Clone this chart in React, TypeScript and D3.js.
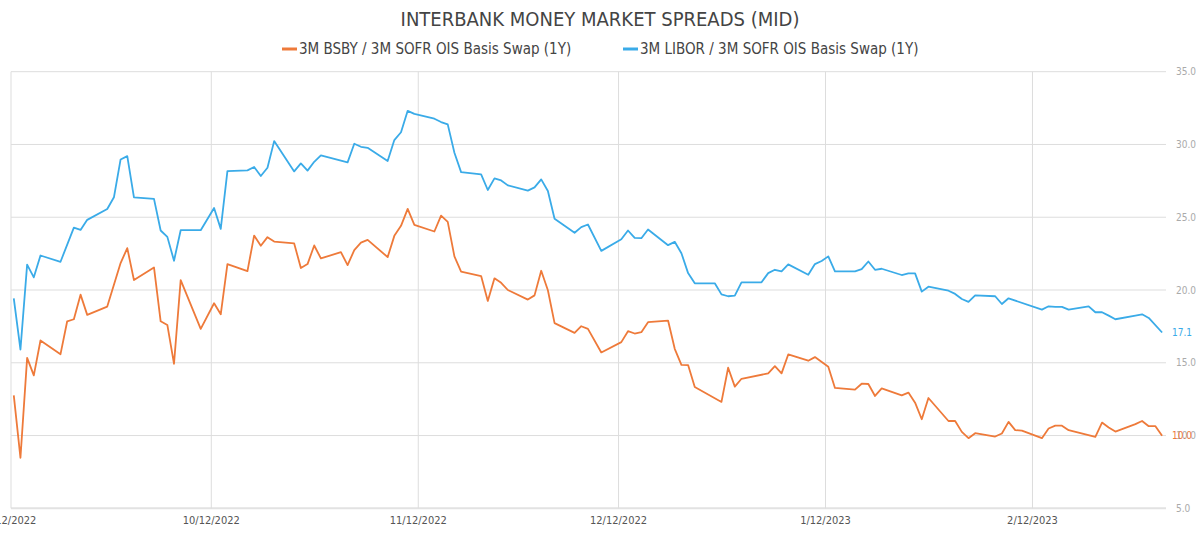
import React from 'react';
import * as d3 from 'd3';

// 3M BSBY / 3M SOFR OIS basis swap (1Y), bp
const bsbyDates = [
  '2022-09-12', '2022-09-13', '2022-09-14', '2022-09-15', '2022-09-16', '2022-09-19', '2022-09-20', '2022-09-21', '2022-09-22', '2022-09-23', '2022-09-26', '2022-09-28', '2022-09-29', '2022-09-30',
  '2022-10-03', '2022-10-04', '2022-10-05', '2022-10-06', '2022-10-07', '2022-10-10', '2022-10-12', '2022-10-13', '2022-10-14', '2022-10-17', '2022-10-18', '2022-10-19', '2022-10-20', '2022-10-21', '2022-10-24', '2022-10-25', '2022-10-26', '2022-10-27', '2022-10-28', '2022-10-31',
  '2022-11-01', '2022-11-02', '2022-11-03', '2022-11-04', '2022-11-07', '2022-11-08', '2022-11-09', '2022-11-10', '2022-11-11', '2022-11-14', '2022-11-15', '2022-11-16', '2022-11-17', '2022-11-18', '2022-11-21', '2022-11-22', '2022-11-23', '2022-11-24', '2022-11-25', '2022-11-28', '2022-11-29', '2022-11-30',
  '2022-12-01', '2022-12-02', '2022-12-05', '2022-12-06', '2022-12-07', '2022-12-09', '2022-12-12', '2022-12-13', '2022-12-14', '2022-12-15', '2022-12-16', '2022-12-19', '2022-12-20', '2022-12-21', '2022-12-22', '2022-12-23', '2022-12-27', '2022-12-28', '2022-12-29', '2022-12-30',
  '2023-01-03', '2023-01-04', '2023-01-05', '2023-01-06', '2023-01-09', '2023-01-10', '2023-01-12', '2023-01-13', '2023-01-16', '2023-01-17', '2023-01-18', '2023-01-19', '2023-01-20', '2023-01-23', '2023-01-24', '2023-01-25', '2023-01-26', '2023-01-27', '2023-01-30', '2023-01-31',
  '2023-02-01', '2023-02-02', '2023-02-03', '2023-02-06', '2023-02-07', '2023-02-08', '2023-02-09', '2023-02-10', '2023-02-13', '2023-02-14', '2023-02-15', '2023-02-16', '2023-02-17', '2023-02-21', '2023-02-22', '2023-02-23', '2023-02-24', '2023-02-27', '2023-02-28',
  '2023-03-01', '2023-03-02', '2023-03-03',
];
const bsbyValues = [
  12.76, 8.47, 15.34, 14.13, 16.53, 15.59, 17.85, 17.99, 19.68, 18.29, 18.86, 21.85, 22.88, 20.68,
  21.55, 17.85, 17.6, 14.93, 20.68, 17.33, 19.09, 18.33, 21.78, 21.3, 23.74, 23.04, 23.63, 23.33, 23.2, 21.51, 21.78, 23.06, 22.17, 22.6,
  21.71, 22.74, 23.26, 23.44, 22.26, 23.72, 24.41, 25.57, 24.47, 24.02, 25.11, 24.68, 22.31, 21.26, 20.96, 19.25, 20.8, 20.49, 20.0, 19.34, 19.63, 21.32,
  19.98, 17.72, 17.05, 17.51, 17.33, 15.71, 16.42, 17.17, 17.01, 17.1, 17.79, 17.9, 15.96, 14.86, 14.84, 13.33, 12.31, 14.66, 13.36, 13.9,
  14.27, 14.77, 14.27, 15.57, 15.14, 15.39, 14.73, 13.27, 13.15, 13.56, 13.54, 12.72, 13.24, 12.76, 12.95, 12.26, 11.12, 12.58, 11.0, 11.0,
  10.25, 9.82, 10.16, 9.93, 10.14, 10.94, 10.37, 10.34, 9.82, 10.48, 10.68, 10.68, 10.37, 9.91, 10.89, 10.55, 10.27, 10.78, 11.0,
  10.64, 10.64, 9.98,
];

// 3M LIBOR / 3M SOFR OIS basis swap (1Y), bp
const liborDates = [
  '2022-09-12', '2022-09-13', '2022-09-14', '2022-09-15', '2022-09-16', '2022-09-19', '2022-09-21', '2022-09-22', '2022-09-23', '2022-09-26', '2022-09-27', '2022-09-28', '2022-09-29', '2022-09-30',
  '2022-10-03', '2022-10-04', '2022-10-05', '2022-10-06', '2022-10-07', '2022-10-10', '2022-10-12', '2022-10-13', '2022-10-14', '2022-10-17', '2022-10-18', '2022-10-19', '2022-10-20', '2022-10-21', '2022-10-24', '2022-10-25', '2022-10-26', '2022-10-27', '2022-10-28',
  '2022-11-01', '2022-11-02', '2022-11-03', '2022-11-04', '2022-11-07', '2022-11-08', '2022-11-09', '2022-11-10', '2022-11-11', '2022-11-14', '2022-11-15', '2022-11-16', '2022-11-17', '2022-11-18', '2022-11-21', '2022-11-22', '2022-11-23', '2022-11-24', '2022-11-25', '2022-11-28', '2022-11-29', '2022-11-30',
  '2022-12-01', '2022-12-02', '2022-12-05', '2022-12-06', '2022-12-07', '2022-12-09', '2022-12-12', '2022-12-13', '2022-12-14', '2022-12-15', '2022-12-16', '2022-12-19', '2022-12-20', '2022-12-21', '2022-12-22', '2022-12-23', '2022-12-26', '2022-12-27', '2022-12-28', '2022-12-29', '2022-12-30',
  '2023-01-02', '2023-01-03', '2023-01-04', '2023-01-05', '2023-01-06', '2023-01-09', '2023-01-10', '2023-01-11', '2023-01-12', '2023-01-13', '2023-01-16', '2023-01-17', '2023-01-18', '2023-01-19', '2023-01-20', '2023-01-23', '2023-01-24', '2023-01-25', '2023-01-26', '2023-01-27', '2023-01-30', '2023-01-31',
  '2023-02-01', '2023-02-02', '2023-02-03', '2023-02-06', '2023-02-07', '2023-02-08', '2023-02-13', '2023-02-14', '2023-02-15', '2023-02-16', '2023-02-17', '2023-02-20', '2023-02-21', '2023-02-22', '2023-02-23', '2023-02-24', '2023-02-27', '2023-02-28',
  '2023-03-01', '2023-03-03',
];
const liborValues = [
  19.43, 15.91, 21.74, 20.87, 22.37, 21.94, 24.29, 24.13, 24.82, 25.57, 26.37, 28.97, 29.2, 26.37,
  26.26, 24.09, 23.65, 22.01, 24.11, 24.11, 25.64, 24.2, 28.17, 28.22, 28.45, 27.83, 28.4, 30.23, 28.15, 28.7, 28.2, 28.81, 29.25,
  28.77, 30.05, 29.84, 29.77, 28.86, 30.3, 30.84, 32.31, 32.1, 31.77, 31.54, 31.38, 29.43, 28.1, 27.95, 26.87, 27.67, 27.53, 27.19, 26.83, 27.05, 27.6,
  26.8, 24.89, 23.93, 24.32, 24.5, 22.69, 23.49, 24.09, 23.58, 23.56, 24.16, 23.08, 23.31, 22.53, 21.16, 20.46, 20.46, 19.7, 19.57, 19.61, 20.53,
  20.53, 21.16, 21.39, 21.28, 21.76, 21.05, 21.78, 21.99, 22.31, 21.28, 21.28, 21.44, 21.96, 21.39, 21.46, 21.03, 21.14, 21.14, 19.89, 20.23, 19.95, 19.73,
  19.38, 19.18, 19.63, 19.57, 19.04, 19.43, 18.65, 18.88, 18.84, 18.84, 18.65, 18.88, 18.47, 18.47, 18.24, 17.99, 18.24, 18.33,
  18.08, 17.08,
];

const seriesNames = ['3M BSBY / 3M SOFR OIS Basis Swap (1Y)', '3M LIBOR / 3M SOFR OIS Basis Swap (1Y)'];
const seriesColors = ['#ee7a3a', '#3aabe8'];
const yTicks = [5, 10, 15, 20, 25, 30, 35];
const xTickDates = ['2022-09-12', '2022-10-12', '2022-11-12', '2022-12-12', '2023-01-12', '2023-02-12'];
const title = 'INTERBANK MONEY MARKET SPREADS (MID)';

const width = 1200;
const height = 533;
const font = "'Liberation Sans Narrow', 'DejaVu Sans Condensed', 'Roboto', sans-serif";

const parse = d3.utcParse('%Y-%m-%d');
const fmtDate = d3.utcFormat('%-m/%-d/%Y');

const App: React.FC = () => {
  const x = d3.scaleUtc()
    .domain([parse('2022-09-12')!, parse('2023-03-04')!])
    .range([11, 1166]);
  const y = d3.scaleLinear().domain([5, 35]).range([508.3, 71.7]);

  // points sit a little after midnight on the time axis
  const px = (d: string) => x(d3.utcHour.offset(parse(d)!, 10));

  const series = [
    { name: seriesNames[0], color: seriesColors[0], dates: bsbyDates, values: bsbyValues },
    { name: seriesNames[1], color: seriesColors[1], dates: liborDates, values: liborValues },
  ];

  const line = (dates: string[], values: number[]) =>
    d3.line<number>()
      .x((_, i) => px(dates[i]))
      .y(v => y(v))(values) || '';

  const [x0, x1] = x.range();

  return (
    <svg width={width} height={height} style={{ position: 'absolute', left: 0, top: 0, background: '#fff' }}>
      <text x={600} y={26} textAnchor="middle" fontFamily={font} fontSize={20} fill="#444">{title}</text>

      {/* legend */}
      <g fontFamily={font} fontSize={15} fill="#444">
        <line x1={282} x2={297} y1={49} y2={49} stroke={seriesColors[0]} strokeWidth={3} />
        <text x={299} y={54}>{seriesNames[0]}</text>
        <line x1={623} x2={638} y1={49} y2={49} stroke={seriesColors[1]} strokeWidth={3} />
        <text x={640} y={54}>{seriesNames[1]}</text>
      </g>

      {/* grid */}
      {yTicks.map(t => (
        <line key={'h' + t} x1={x0} x2={x1} y1={y(t)} y2={y(t)}
          stroke={t === 5 ? '#e2e2e2' : '#dddddd'} strokeWidth={t === 5 ? 2 : 1} />
      ))}
      {xTickDates.map(d => (
        <line key={'v' + d} x1={x(parse(d)!)} x2={x(parse(d)!)} y1={y(35)} y2={y(5)} stroke="#dddddd" strokeWidth={1} />
      ))}

      {/* y axis labels on the right */}
      {yTicks.map(t => (
        <text key={'yl' + t} x={1176} y={y(t) + 3.5} fontFamily={font} fontSize={10} fill="#aaaaaa">{t.toFixed(1)}</text>
      ))}

      {/* x axis labels */}
      {xTickDates.map(d => (
        <text key={'xl' + d} x={x(parse(d)!)} y={524} textAnchor="middle" fontFamily={font} fontSize={11} fill="#555">
          {fmtDate(parse(d)!)}
        </text>
      ))}

      {/* lines */}
      {series.map(s => (
        <path key={s.name} d={line(s.dates, s.values)} fill="none" stroke={s.color} strokeWidth={1.8} strokeLinejoin="round" />
      ))}

      {/* last value labels */}
      {series.map(s => {
        const v = s.values[s.values.length - 1];
        return (
          <text key={'last' + s.name} x={1172} y={y(v) + 3.5} fontFamily={font} fontSize={10} fill={s.color}>
            {v.toFixed(1)}
          </text>
        );
      })}
    </svg>
  );
};

export default App;
